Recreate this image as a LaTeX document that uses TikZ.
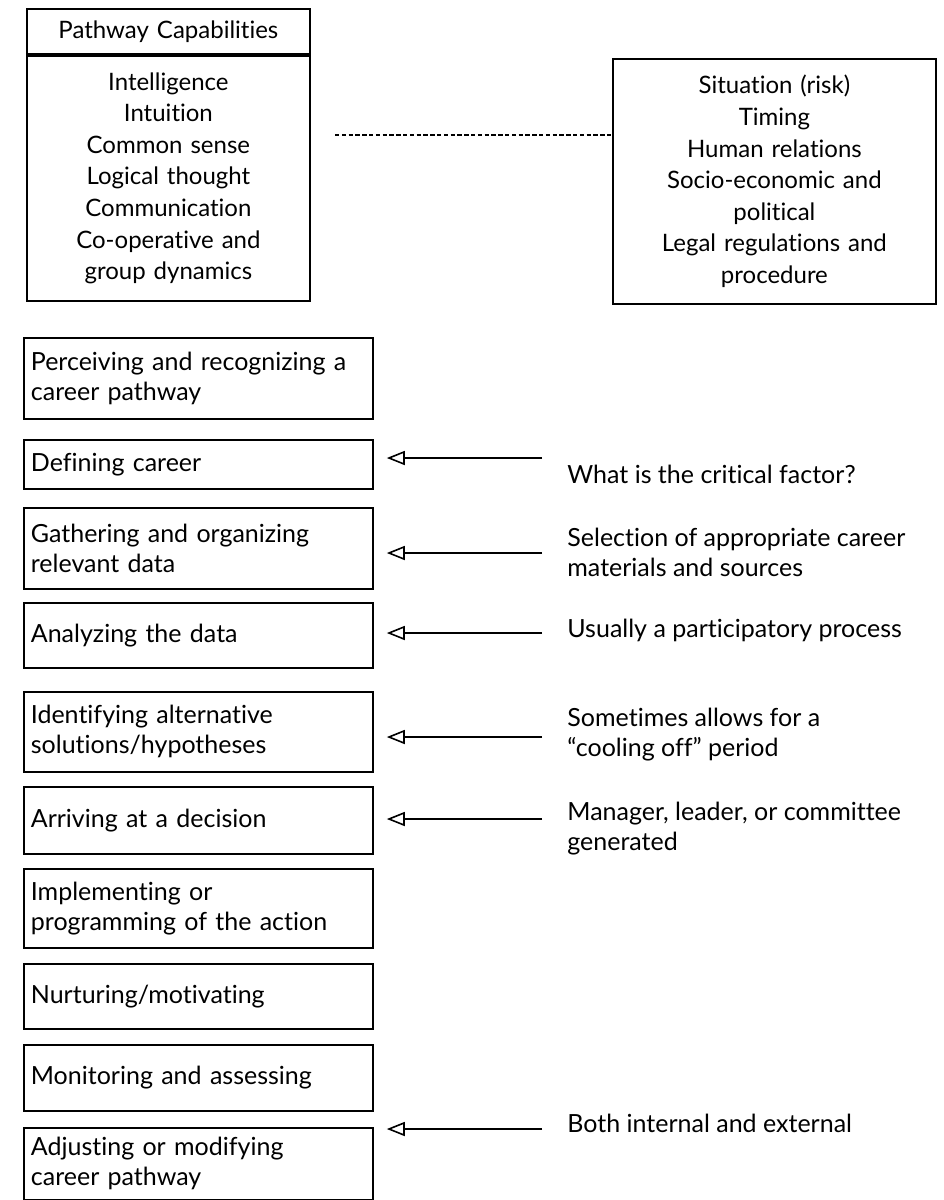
\documentclass[tikz,border=0pt]{standalone}
\usepackage{fontspec}
\setmainfont{Lato}[Ligatures={TeX,NoCommon}]
\usepackage{tikz}
\usetikzlibrary{positioning, arrows.meta, calc}
\tikzset{
  stepbox/.style={
    draw, line width=0.9pt, anchor=north west, align=left,
    text width=167.5pt, inner xsep=3.5pt, inner ysep=2pt,
    font=\fontsize{12.5}{15}\selectfont
  },
  capbox/.style={
    draw, line width=0.9pt, align=center, inner sep=2pt,
    font=\fontsize{12}{15.8}\selectfont
  },
  note/.style={anchor=west, align=left, inner sep=0pt, font=\fontsize{12.5}{15}\selectfont},
  feed/.style={draw, line width=0.8pt, -{Triangle[open, length=9pt, width=7pt]}, shorten >=6.5pt},
  link/.style={draw, line width=0.8pt, dash pattern=on 2.2pt off 1.2pt},
}

\begin{document}
\begin{tikzpicture}[x=0.5pt, y=-0.5pt]
  \useasboundingbox (0,0) rectangle (943,1200);

  % capabilities and conditions
  \node[capbox, anchor=north west, minimum width=141.5pt, minimum height=22.5pt, text width=137pt] (capHead) at (26,8) {Pathway Capabilities};
  \node[capbox, below=0pt of capHead, minimum width=141.5pt, minimum height=122.5pt, text width=137pt] (capBody)
    {Intelligence\\Intuition\\Common sense\\Logical thought\\Communication\\Co-operative and\\group dynamics};
  \node[capbox, anchor=north west, minimum width=161.5pt, minimum height=122.5pt, text width=157pt] (env) at (612,58)
    {Situation (risk)\\Timing\\Human relations\\Socio-economic and\\political\\Legal regulations and\\procedure};
  \coordinate (linkStart) at (335,135);
  \draw[link] (linkStart) -- (linkStart -| env.west);

  % pathway steps
  \node[stepbox, minimum height=40.5pt] (perceive) at (23,337) {Perceiving and recognizing a\\career pathway};
  \node[stepbox, minimum height=24.5pt] (define) at (23,439) {Defining career};
  \node[stepbox, minimum height=40.5pt] (gather) at (23,507) {Gathering and organizing\\relevant data};
  \node[stepbox, minimum height=32.5pt] (analyze) at (23,602) {Analyzing the data};
  \node[stepbox, minimum height=40pt] (identify) at (23,691) {Identifying alternative\\solutions/hypotheses};
  \node[stepbox, minimum height=33.5pt] (decide) at (23,786) {Arriving at a decision};
  \node[stepbox, minimum height=39.5pt] (implement) at (23,868) {Implementing or\\programming of the action};
  \node[stepbox, minimum height=32.5pt] (nurture) at (23,963) {Nurturing/motivating};
  \node[stepbox, minimum height=33pt] (monitor) at (23,1044) {Monitoring and assessing};
  \node[stepbox, minimum height=36pt] (adjust) at (23,1127) {Adjusting or modifying\\career pathway};

  % remarks
  \node[note] (critical) at (567,474) {What is the critical factor?};
  \node[note] (sources) at (567,552) {Selection of appropriate career\\materials and sources};
  \node[note] (partic) at (567,630) {Usually a participatory process};
  \node[note] (cooling) at (567,735) {Sometimes allows for a\\``cooling off'' period};
  \node[note] (manager) at (567,829) {Manager, leader, or committee\\generated};
  \node[note] (both) at (567,1123) {Both internal and external};

  \coordinate (inDefine) at (542,458);
  \coordinate (inGather) at (542,553);
  \coordinate (inAnalyze) at (542,633);
  \coordinate (inIdentify) at (542,737);
  \coordinate (inDecide) at (542,819);
  \coordinate (inAdjust) at (542,1129);
  \draw[feed] (inDefine) -- (inDefine -| define.east);
  \draw[feed] (inGather) -- (inGather -| gather.east);
  \draw[feed] (inAnalyze) -- (inAnalyze -| analyze.east);
  \draw[feed] (inIdentify) -- (inIdentify -| identify.east);
  \draw[feed] (inDecide) -- (inDecide -| decide.east);
  \draw[feed] (inAdjust) -- (inAdjust -| adjust.east);
\end{tikzpicture}
\end{document}
